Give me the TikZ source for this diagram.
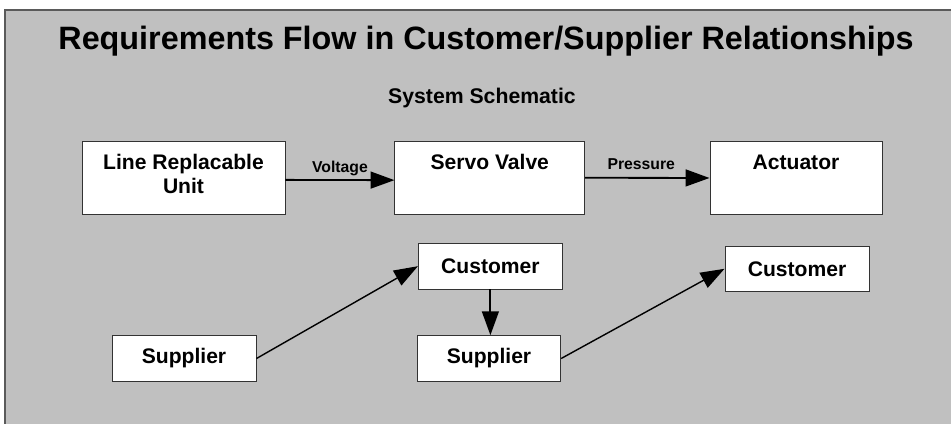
\documentclass[tikz,border=0pt]{standalone}
\usepackage{fontspec}
\setmainfont{Liberation Sans}
\usepackage{tikz}
\usetikzlibrary{positioning, arrows.meta}
\definecolor{slidegray}{HTML}{C0C0C0}
\definecolor{framegray}{HTML}{5A5A5A}
\tikzset{
	bigbox/.style={draw=black!80, line width=0.7pt, fill=white, minimum height=1.825cm}
}
\tikzset{
	smallbox/.style={draw=black!80, line width=0.7pt, fill=white, minimum width=3.6cm,
	  minimum height=1.14cm, font=\fontsize{15}{17}\selectfont\bfseries}
}
\tikzset{
	boxtext/.style={font=\fontsize{15}{17.3}\selectfont\bfseries, align=center, inner sep=0pt}
}
\tikzset{
	arrowtext/.style={font=\fontsize{11.2}{13}\selectfont\bfseries, inner sep=0pt}
}

\begin{document}
\begin{tikzpicture}[>={Triangle[length=17pt,width=12pt]}]
      \useasboundingbox (0,0) rectangle (23.775,10.6);
      % slide background with its frame on top and left
      \fill[slidegray] (0.125,0) rectangle (23.775,10.35);
      \draw[framegray, line width=1.4pt] (0.125,0) -- (0.125,10.35) -- (23.775,10.35);

      \node[font=\fontsize{23}{27}\selectfont\bfseries, anchor=base] (title) at (12.15,9.35)
        {Requirements Flow in Customer/Supplier Relationships};
      \node[font=\fontsize{15.1}{18}\selectfont\bfseries, anchor=base] (schematic) at (12.05,8.0)
        {System Schematic};

      % system schematic
      \node[bigbox, minimum width=5.075cm] (lru) at (4.5875,6.1625) {};
      \node[bigbox, minimum width=4.74cm] (servo) at (12.244,6.156) {};
      \node[bigbox, minimum width=4.3cm] (act) at (19.9,6.15) {};

      \node[boxtext, anchor=north] (lrutext) at ([yshift=-0.34cm]lru.north) {Line Replacable\\Unit};
      \node[boxtext, anchor=north] (servotext) at ([yshift=-0.34cm]servo.north) {Servo Valve};
      \node[boxtext, anchor=north] (acttext) at ([yshift=-0.34cm]act.north) {Actuator};

      \draw[->, line width=1.3pt] ([yshift=-0.06cm]lru.east) --
        node[arrowtext, anchor=base, yshift=0.18cm] (voltage) {Voltage} ([yshift=-0.06cm]servo.west);
      \draw[->, line width=1.3pt] (servo.east) --
        node[arrowtext, anchor=base, yshift=0.2cm, xshift=-0.15cm] (pressure) {Pressure} (act.west);

      % customer / supplier chain
      \node[smallbox] (sup1) at (4.6,1.6375) {Supplier};
      \node[smallbox] (cust1) at (12.26,3.945) {Customer};
      \node[smallbox, minimum width=3.585cm] (sup2) at (12.225,1.6375) {Supplier};
      \node[smallbox] (cust2) at (19.925,3.88) {Customer};

      \draw[->, line width=1pt] (sup1.east) -- (cust1.west);
      \draw[->, line width=1.3pt] (cust1.south) -- (cust1.south |- sup2.north);
      \draw[->, line width=1pt] (sup2.east) -- (cust2.west);
    \end{tikzpicture}
\end{document}
